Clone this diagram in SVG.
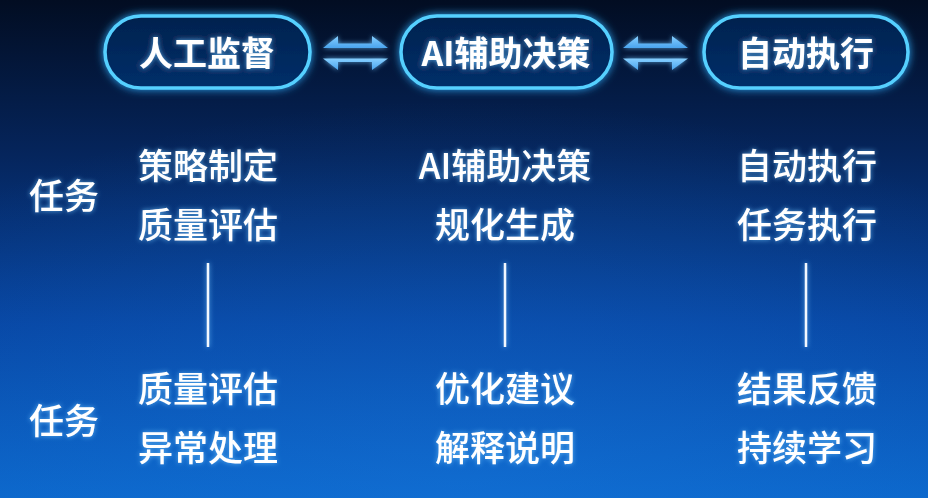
<svg xmlns="http://www.w3.org/2000/svg" width="928" height="498" viewBox="0 0 928 498">
<defs>
<linearGradient id="bg" x1="0" y1="0" x2="0" y2="1">
<stop offset="0" stop-color="#020d22"/>
<stop offset="0.3" stop-color="#05245a"/>
<stop offset="0.65" stop-color="#0745a2"/>
<stop offset="1" stop-color="#0b66ca"/>
</linearGradient>
<radialGradient id="vign" cx="0.5" cy="1" r="0.8">
<stop offset="0" stop-color="#1a7ae0" stop-opacity="0.35"/>
<stop offset="1" stop-color="#1a7ae0" stop-opacity="0"/>
</radialGradient>
<linearGradient id="pillfill" x1="0" y1="0" x2="0" y2="1">
<stop offset="0" stop-color="#04224e"/>
<stop offset="1" stop-color="#062f6a"/>
</linearGradient>
<linearGradient id="arrowg" x1="0" y1="0" x2="0" y2="1">
<stop offset="0" stop-color="#86cfff"/>
<stop offset="1" stop-color="#4aa4ee"/>
</linearGradient>
<filter id="glow" x="-20%" y="-40%" width="140%" height="180%">
<feGaussianBlur in="SourceAlpha" stdDeviation="4" result="b"/>
<feFlood flood-color="#2fb0ff" flood-opacity="0.9"/>
<feComposite in2="b" operator="in" result="g"/>
<feMerge><feMergeNode in="g"/><feMergeNode in="SourceGraphic"/></feMerge>
</filter>
<filter id="tglow" x="-20%" y="-40%" width="140%" height="180%">
<feGaussianBlur in="SourceAlpha" stdDeviation="2.5" result="b"/>
<feFlood flood-color="#6cc4ff" flood-opacity="0.8"/>
<feComposite in2="b" operator="in" result="g"/>
<feMerge><feMergeNode in="g"/><feMergeNode in="SourceGraphic"/></feMerge>
</filter>
<style>
.pill{fill:url(#pillfill);stroke:#55d0ff;stroke-width:3.5}
.head{font-family:"Noto Sans CJK SC","Noto Sans",sans-serif;font-size:34px;font-weight:700;fill:#ffffff;text-anchor:middle;dominant-baseline:central}
.body{font-family:"Noto Sans CJK SC","Noto Sans",sans-serif;font-size:35px;font-weight:500;fill:#ffffff;text-anchor:middle;dominant-baseline:central}
.arrow{fill:url(#arrowg)}
.vline{stroke:#f2f8ff;stroke-width:2.5}
</style>
</defs>
<rect width="928" height="498" fill="url(#bg)"/>
<rect width="928" height="498" fill="url(#vign)"/>

<g id="node-human" filter="url(#glow)">
<rect class="pill" x="105" y="16" width="205" height="72" rx="36"/>
<text class="head" x="207" y="51" filter="url(#tglow)">人工监督</text>
</g>
<g id="node-ai" filter="url(#glow)">
<rect class="pill" x="401" y="16" width="211" height="72" rx="36"/>
<text class="head" x="506" y="51" filter="url(#tglow)">AI辅助决策</text>
</g>
<g id="node-auto" filter="url(#glow)">
<rect class="pill" x="704" y="16" width="204" height="72" rx="36"/>
<text class="head" x="806" y="51" filter="url(#tglow)">自动执行</text>
</g>

<g id="connectors">
<g filter="url(#tglow)">
<polygon class="arrow" points="323,48 338,36 338,43.5 372,43.5 372,36 388,48"/>
<polygon class="arrow" points="323,58.5 388,58.5 372,70 372,62 338,62 338,70"/>
<polygon class="arrow" points="623,48 638,36 638,43.5 672,43.5 672,36 688,48"/>
<polygon class="arrow" points="623,58.5 688,58.5 672,70 672,62 638,62 638,70"/>
</g>
<g filter="url(#tglow)">
<line class="vline" x1="208" y1="263" x2="208" y2="347"/>
<line class="vline" x1="505" y1="263" x2="505" y2="347"/>
<line class="vline" x1="806" y1="263" x2="806" y2="347"/>
</g>
</g>

<g id="labels" filter="url(#tglow)">
<text class="body" x="64" y="193">任务</text>
<text class="body" x="64" y="418">任务</text>
</g>

<g id="col-human" filter="url(#tglow)">
<text class="body" x="208" y="163">策略制定</text>
<text class="body" x="208" y="222">质量评估</text>
<text class="body" x="208" y="386">质量评估</text>
<text class="body" x="208" y="445">异常处理</text>
</g>
<g id="col-ai" filter="url(#tglow)">
<text class="body" x="505" y="163">AI辅助决策</text>
<text class="body" x="505" y="222">规化生成</text>
<text class="body" x="505" y="386">优化建议</text>
<text class="body" x="505" y="445">解释说明</text>
</g>
<g id="col-auto" filter="url(#tglow)">
<text class="body" x="807" y="163">自动执行</text>
<text class="body" x="807" y="222">任务执行</text>
<text class="body" x="807" y="386">结果反馈</text>
<text class="body" x="807" y="445">持续学习</text>
</g>
</svg>
